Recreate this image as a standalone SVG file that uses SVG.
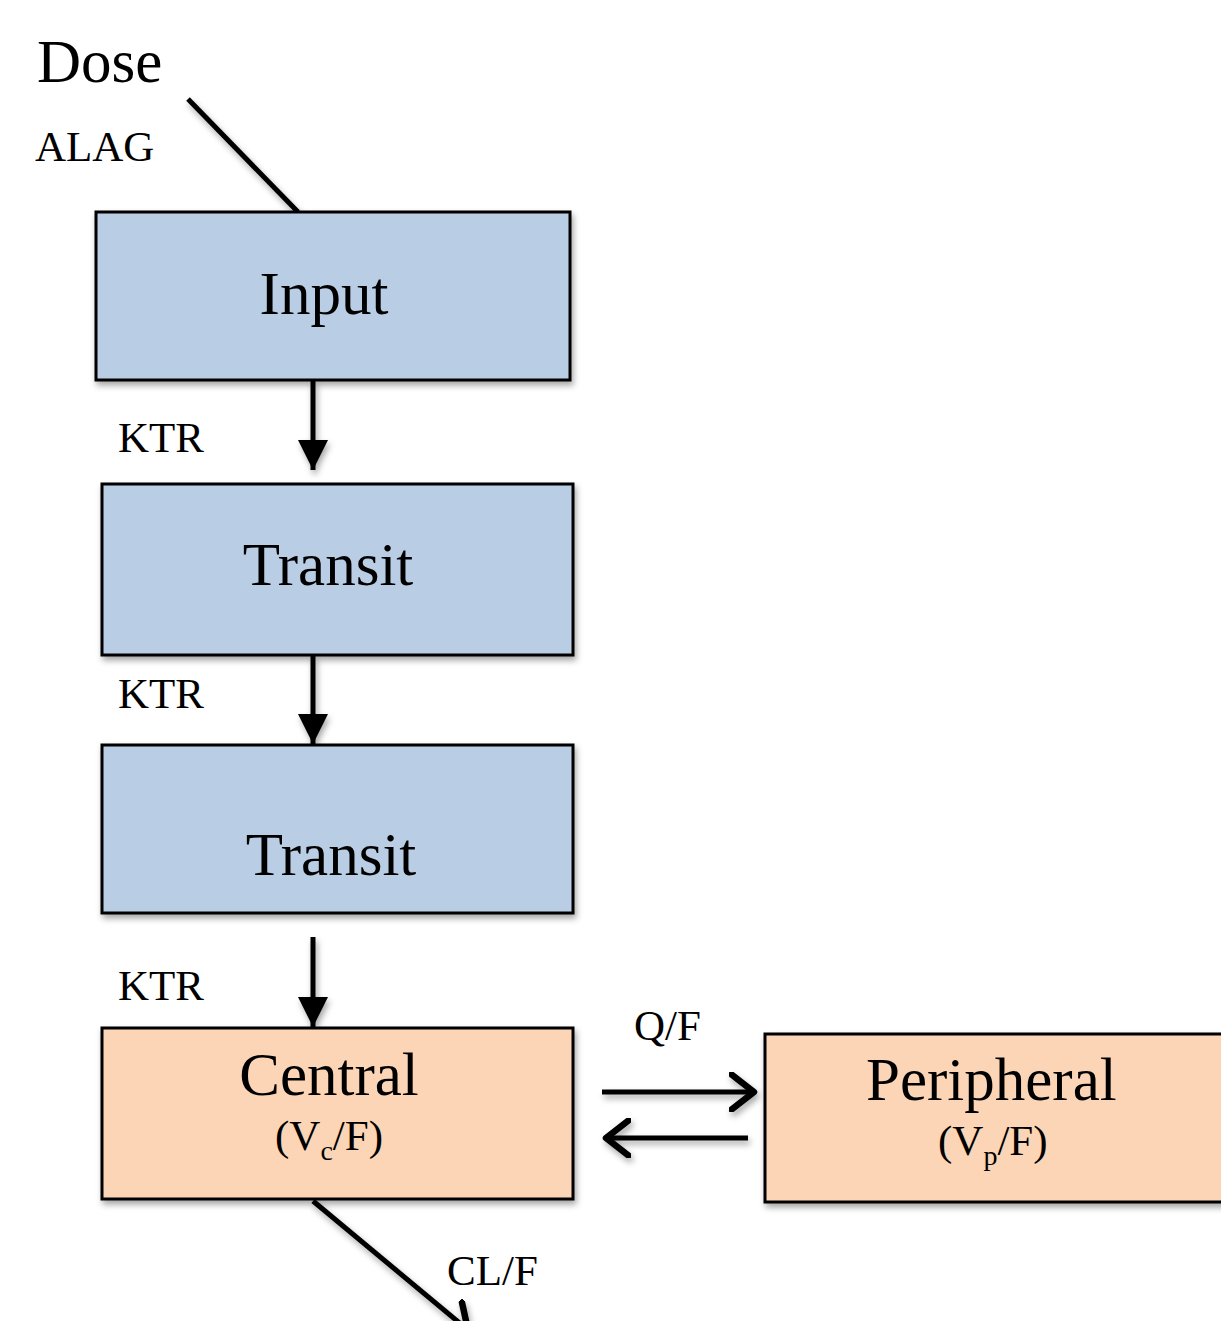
<svg xmlns="http://www.w3.org/2000/svg" width="1221" height="1321" viewBox="0 0 1221 1321">
<style>
.t{font-family:"Liberation Serif","Times New Roman",serif;fill:#000}
.big{font-size:61px}
.sm{font-size:43px}
.blue{fill:#B9CDE5;stroke:#000;stroke-width:3}
.orange{fill:#FBD5B5;stroke:#000;stroke-width:3}
.ln{stroke:#000;stroke-width:5;fill:none}
</style>
<defs>
<filter id="sh" x="-5%" y="-10%" width="115%" height="130%">
<feDropShadow dx="2" dy="4" stdDeviation="3" flood-color="#000" flood-opacity="0.35"/>
</filter>
<marker id="tri" markerWidth="6" markerHeight="6" refX="6" refY="3" orient="auto" markerUnits="strokeWidth">
<path d="M0,0 L6,3 L0,6 Z" fill="#000"/>
</marker>
<marker id="open" markerWidth="6" markerHeight="8" refX="5" refY="4" orient="auto" markerUnits="strokeWidth">
<path d="M0.5,0.5 L5,4 L0.5,7.5" fill="none" stroke="#000" stroke-width="1.3" stroke-linecap="round" stroke-linejoin="round"/>
</marker>
</defs>
<rect width="1221" height="1321" fill="#fff"/>
<text class="t big" x="37" y="82">Dose</text>
<text class="t sm" x="35" y="161">ALAG</text>
<g id="connectors" filter="url(#sh)">
<line class="ln" x1="188" y1="99" x2="298" y2="212"/>
<line class="ln" x1="313" y1="381" x2="313" y2="470" marker-end="url(#tri)"/>
<line class="ln" x1="313" y1="656" x2="313" y2="744" marker-end="url(#tri)"/>
<line class="ln" x1="313" y1="937" x2="313" y2="1027" marker-end="url(#tri)"/>
<line class="ln" x1="602" y1="1092" x2="754" y2="1092" marker-end="url(#open)"/>
<line class="ln" x1="748" y1="1138" x2="606" y2="1138" marker-end="url(#open)"/>
<line class="ln" x1="313" y1="1201" x2="468" y2="1330" marker-end="url(#open)"/>
</g>
<g id="input"><rect class="blue" filter="url(#sh)" x="96" y="212" width="474" height="168"/>
<text class="t big" x="324" y="314" text-anchor="middle">Input</text></g>
<text class="t sm" x="118" y="452">KTR</text>
<g id="transit1"><rect class="blue" filter="url(#sh)" x="102" y="484" width="471" height="171"/>
<text class="t big" x="328" y="585" text-anchor="middle">Transit</text></g>
<text class="t sm" x="118" y="708">KTR</text>
<g id="transit2"><rect class="blue" filter="url(#sh)" x="102" y="745" width="471" height="168"/>
<text class="t big" x="331" y="875" text-anchor="middle">Transit</text></g>
<text class="t sm" x="118" y="1000">KTR</text>
<g id="central"><rect class="orange" filter="url(#sh)" x="102" y="1028" width="471" height="171"/>
<text class="t big" x="329" y="1095" text-anchor="middle">Central</text>
<text class="t sm" x="275" y="1150">(V<tspan font-size="28" dy="10">c</tspan><tspan dy="-10">/F)</tspan></text></g>
<text class="t sm" x="634" y="1040">Q/F</text>
<g id="peripheral"><rect class="orange" filter="url(#sh)" x="765" y="1034" width="470" height="168"/>
<text class="t big" x="866" y="1100">Peripheral</text>
<text class="t sm" x="938" y="1155">(V<tspan font-size="28" dy="10">p</tspan><tspan dy="-10">/F)</tspan></text></g>
<text class="t sm" x="447" y="1285">CL/F</text>
</svg>
